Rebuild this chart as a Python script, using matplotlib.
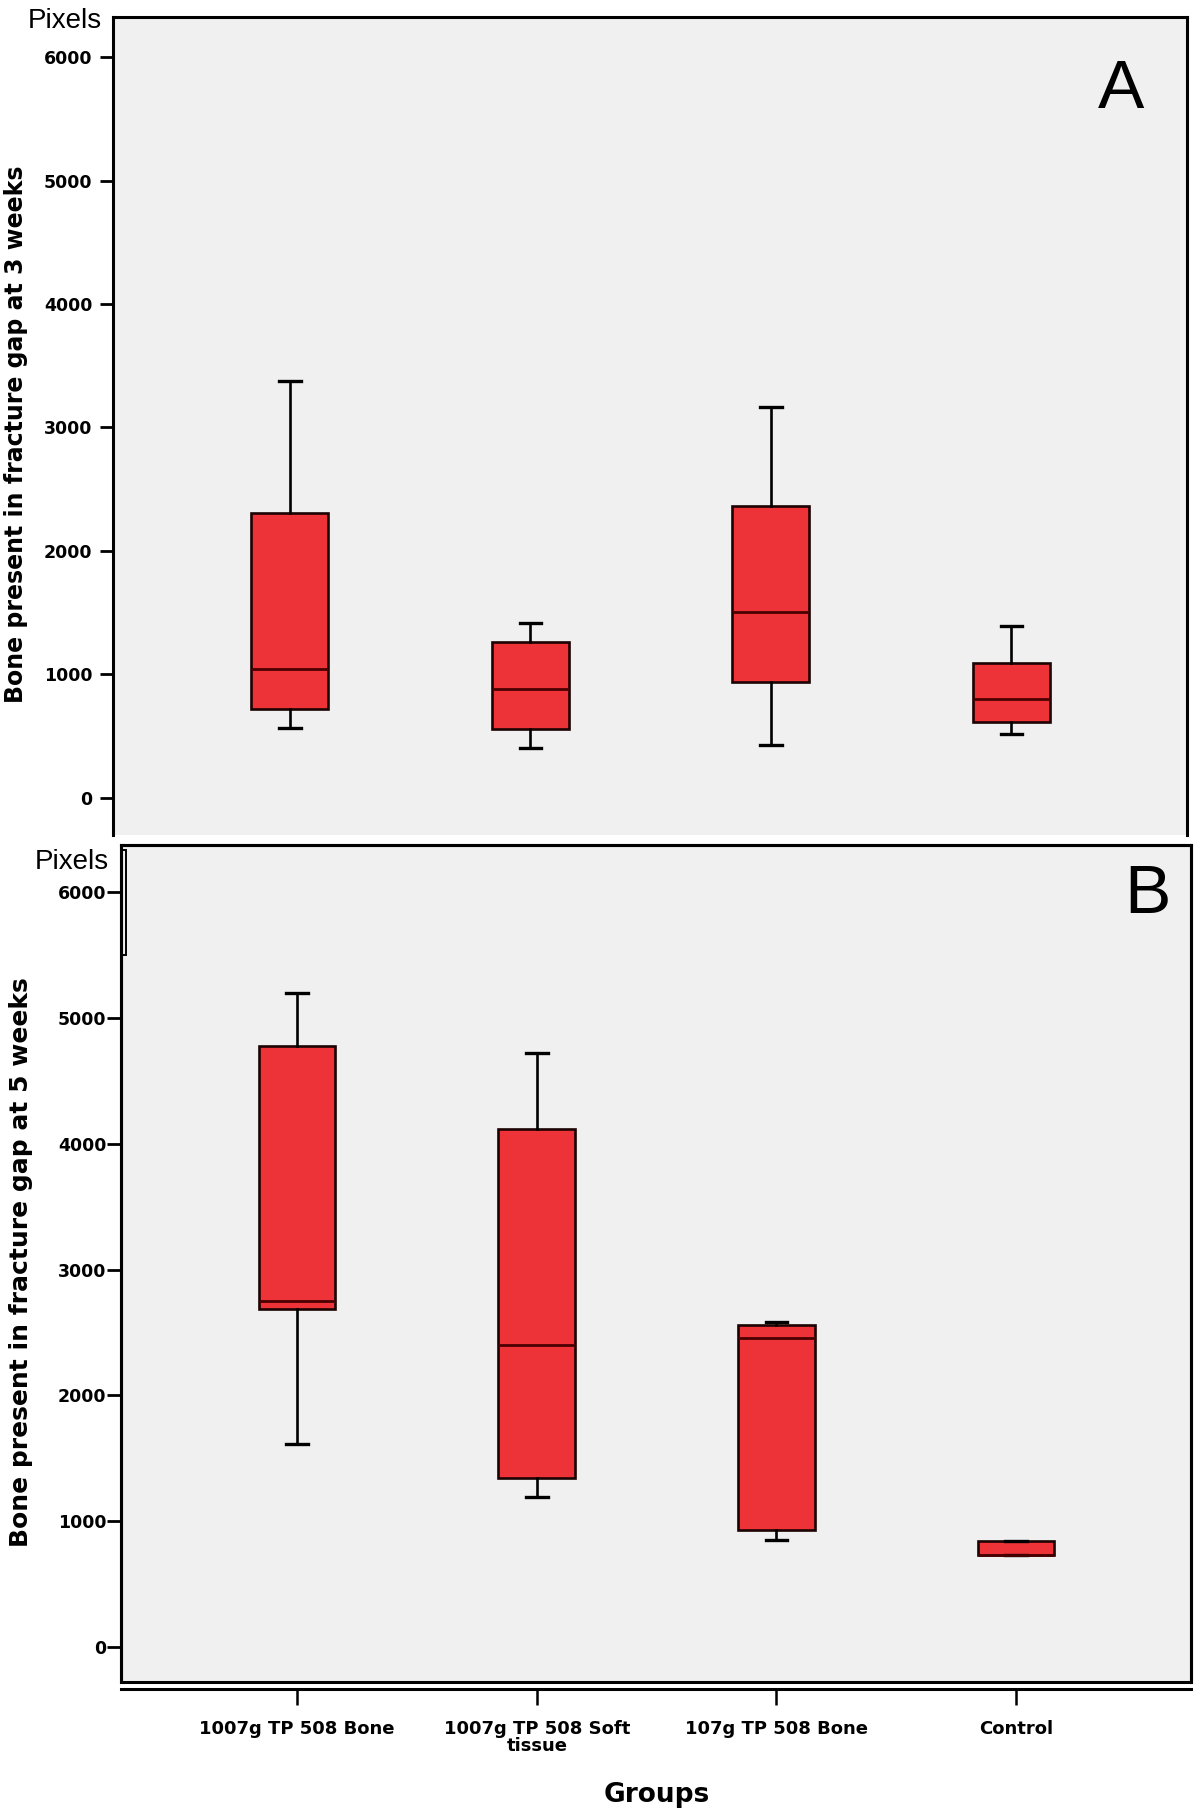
import numpy as np
import matplotlib.pyplot as plt
from matplotlib.patches import Rectangle

# groups and box statistics (pixels of bone)
groups = ['1007g TP 508 Bone', '1007g TP 508 Soft\ntissue', '107g TP 508 Bone', 'Control']

# panel A - 3 weeks
a_whislo = [564, 402, 429, 515]
a_q1 = [721, 559, 937, 618]
a_med = [1045, 883, 1504, 805]
a_q3 = [2305, 1260, 2364, 1096]
a_whishi = [3379, 1420, 3163, 1395]

# panel B - 5 weeks
b_whislo = [1612, 1190, 851, 735]
b_q1 = [2690, 1345, 927, 735]
b_med = [2746, 2401, 2452, 735]
b_q3 = [4773, 4114, 2558, 844]
b_whishi = [5195, 4717, 2581, 844]

yticks = [0, 1000, 2000, 3000, 4000, 5000, 6000]

W, H = 1200, 1816
fig = plt.figure(figsize=(W / 100, H / 100), dpi=100)
fig.patch.set_facecolor('white')

def fx(px):
    return px / W

def fy(py):
    return 1 - py / H

axA = fig.add_axes([fx(113), fy(835), fx(1187) - fx(113), fy(17) - fy(835)])
axB = fig.add_axes([fx(121), fy(1682), fx(1191) - fx(121), fy(845) - fy(1682)])

def stats(lo, q1, med, q3, hi):
    out = []
    for i in range(len(lo)):
        out.append(dict(whislo=lo[i], q1=q1[i], med=med[i], q3=q3[i], whishi=hi[i], fliers=[]))
    return out

box_fill = '#ee3338'
edge = '#1c0202'

for ax, st in [(axA, stats(a_whislo, a_q1, a_med, a_q3, a_whishi)),
               (axB, stats(b_whislo, b_q1, b_med, b_q3, b_whishi))]:
    ax.set_facecolor('#f0f0f0')
    ax.bxp(st, positions=np.arange(len(groups)), widths=0.32, patch_artist=True,
           showfliers=False,
           boxprops=dict(facecolor=box_fill, edgecolor=edge, linewidth=1.9),
           medianprops=dict(color='#4a0000', linewidth=2.0),
           whiskerprops=dict(color='black', linewidth=1.9),
           capprops=dict(color='black', linewidth=2.4),
           capwidths=0.09)
    ax.set_xlim(-0.735, 3.73)
    ax.set_yticks(yticks)
    ax.set_yticklabels([str(v) for v in yticks], fontsize=12.5, fontweight='bold',
                       family='DejaVu Sans')
    for s in ax.spines.values():
        s.set_linewidth(2.2)

axA.set_ylim(-300, 6324)
axB.set_ylim(-278, 6374)

# panel A frame: no bottom edge, no x ticks
axA.spines['bottom'].set_visible(False)
axA.set_xticks([])
axA.tick_params(axis='y', length=9.5, width=2, pad=5.5)

# panel B: x axis line sits slightly below the frame
axB.spines['bottom'].set_position(('outward', 5))
axB.add_patch(Rectangle((0, 0), 1, 1, transform=axB.transAxes, fill=False,
                        linewidth=2.2, edgecolor='black', clip_on=False))
axB.add_patch(Rectangle((0, 0.869), 0.005, 0.125, transform=axB.transAxes, fill=False,
                        linewidth=1.4, edgecolor='black', clip_on=False))
axB.set_xticks(np.arange(len(groups)))
axB.set_xticklabels(groups, fontsize=13, fontweight='bold', family='DejaVu Sans',
                    linespacing=0.95)
axB.tick_params(axis='x', length=11.5, width=1.8, pad=11)
axB.tick_params(axis='y', length=10, width=2, pad=0.5)

# texts
fig.text(fx(65), fy(21), 'Pixels', fontsize=20, family='Liberation Sans', ha='center', va='center')
fig.text(fx(72), fy(862), 'Pixels', fontsize=20, family='Liberation Sans', ha='center', va='center')
fig.text(fx(16), fy(434), 'Bone present in fracture gap at 3 weeks', rotation=90,
         fontsize=17, fontweight='bold', family='DejaVu Sans', ha='center', va='center')
fig.text(fx(21), fy(1262), 'Bone present in fracture gap at 5 weeks', rotation=90,
         fontsize=18, fontweight='bold', family='DejaVu Sans', ha='center', va='center')
axA.text(0.9385, 0.911, 'A', transform=axA.transAxes, fontsize=50, family='Liberation Sans',
         ha='center', va='center')
axB.text(0.959, 0.940, 'B', transform=axB.transAxes, fontsize=50, family='Liberation Sans',
         ha='center', va='center')
fig.text(fx(657), fy(1795), 'Groups', fontsize=19, fontweight='bold', family='DejaVu Sans',
         ha='center', va='center')

fig.savefig('out.png', dpi=100)
